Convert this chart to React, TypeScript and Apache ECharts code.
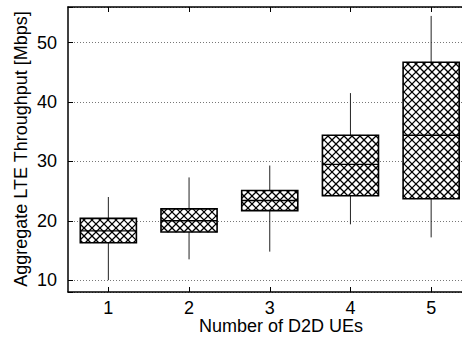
import React, { useEffect, useRef } from "react";
import * as echarts from "echarts";

const categories = ["1", "2", "3", "4", "5"];
const whiskerLow = [10.0, 13.5, 14.8, 19.4, 17.2];
const quartile1 = [16.3, 18.1, 21.7, 24.2, 23.7];
const medians = [18.3, 20.0, 23.4, 29.5, 34.4];
const quartile3 = [20.4, 22.0, 25.1, 34.4, 46.7];
const whiskerHigh = [24.0, 27.3, 29.3, 41.5, 54.5];

const yTitle = "Aggregate LTE Throughput [Mbps]";
const xTitle = "Number of D2D UEs";

const FONT = "'Liberation Sans', Arial, Helvetica, sans-serif";

export default function App() {
  const ref = useRef<HTMLDivElement>(null);

  useEffect(() => {
    if (!ref.current) return;
    const chart = echarts.init(ref.current, undefined, { renderer: "svg" });

    const boxData = categories.map((_, i) => [
      i,
      whiskerLow[i],
      quartile1[i],
      medians[i],
      quartile3[i],
      whiskerHigh[i],
    ]);

    const renderItem = (params: any, api: any) => {
      const idx = api.value(0);
      const pMin = api.coord([idx, api.value(1)]);
      const pQ1 = api.coord([idx, api.value(2)]);
      const pMed = api.coord([idx, api.value(3)]);
      const pQ3 = api.coord([idx, api.value(4)]);
      const pMax = api.coord([idx, api.value(5)]);
      const band = api.size([1, 0])[0];
      const w = band * 0.695;
      const cx = pMed[0];
      const x0 = cx - w / 2;
      const x1 = cx + w / 2;
      const y0 = pQ3[1];
      const y1 = pQ1[1];
      const children: any[] = [];
      children.push({
        type: "line",
        shape: { x1: cx, y1: pMax[1], x2: cx, y2: y0 },
        style: { stroke: "#222", lineWidth: 1 },
      });
      children.push({
        type: "line",
        shape: { x1: cx, y1: y1, x2: cx, y2: pMin[1] },
        style: { stroke: "#222", lineWidth: 1 },
      });
      children.push({
        type: "rect",
        shape: { x: x0, y: y0, width: x1 - x0, height: y1 - y0 },
        style: { fill: "#fff", stroke: null },
      });
      const sp = 8;
      const hatchStyle = { stroke: "#000", lineWidth: 1.3 };
      for (let c = Math.ceil((x0 - y1) / sp) * sp; c <= x1 - y0; c += sp) {
        const xs = Math.max(x0, y0 + c);
        const xe = Math.min(x1, y1 + c);
        if (xe > xs) {
          children.push({
            type: "line",
            shape: { x1: xs, y1: xs - c, x2: xe, y2: xe - c },
            style: hatchStyle,
          });
        }
      }
      for (let c = Math.ceil((x0 + y0) / sp) * sp; c <= x1 + y1; c += sp) {
        const xs = Math.max(x0, c - y1);
        const xe = Math.min(x1, c - y0);
        if (xe > xs) {
          children.push({
            type: "line",
            shape: { x1: xs, y1: c - xs, x2: xe, y2: c - xe },
            style: hatchStyle,
          });
        }
      }
      children.push({
        type: "rect",
        shape: { x: x0, y: y0, width: x1 - x0, height: y1 - y0 },
        style: { fill: "none", stroke: "#000", lineWidth: 1.6 },
      });
      children.push({
        type: "line",
        shape: { x1: x0, y1: pMed[1], x2: x1, y2: pMed[1] },
        style: { stroke: "#000", lineWidth: 1.4 },
      });
      return { type: "group", children };
    };

    chart.setOption({
      animation: false,
      backgroundColor: "#fff",
      textStyle: { fontFamily: FONT },
      grid: {
        left: 68,
        top: 7,
        width: 403.5,
        height: 285,
        outerBoundsMode: "none",
        containLabel: false,
      },
      xAxis: [
        {
          type: "category",
          data: categories,
          position: "bottom",
          axisLine: { show: true, lineStyle: { color: "#000", width: 1.5 } },
          axisTick: { show: true, inside: true, length: 5, alignWithLabel: true, lineStyle: { color: "#000" } },
          axisLabel: {
            color: "#000",
            fontSize: 18,
            lineHeight: 13,
            fontFamily: FONT,
            margin: 9,
          },
          splitLine: { show: false },
        },
        {
          type: "category",
          data: categories,
          position: "top",
          axisLine: { show: true, onZero: false, lineStyle: { color: "#000", width: 1.5 } },
          axisTick: { show: true, inside: true, length: 5, alignWithLabel: true, lineStyle: { color: "#000" } },
          axisLabel: { show: false },
          splitLine: { show: false },
        },
      ],
      yAxis: {
        type: "value",
        min: 8,
        max: 56,
        splitNumber: 5,
        axisLine: { show: true, lineStyle: { color: "#000", width: 1.5 } },
        axisTick: { show: true, inside: true, length: 5, lineStyle: { color: "#000" } },
        axisLabel: {
          color: "#000",
          fontSize: 18,
          fontFamily: FONT,
          margin: 11,
          formatter: (v: number) => (v % 10 === 0 ? String(v) : ""),
        },
        splitLine: {
          show: true,
          lineStyle: { color: "#777", width: 1, type: [1, 2] },
        },
      },
      series: [
        {
          type: "custom",
          renderItem,
          data: boxData,
          encode: { x: 0, y: [1, 2, 3, 4, 5] },
          clip: false,
        },
      ],
      graphic: [
        {
          type: "text",
          x: 281,
          y: 326,
          style: {
            text: xTitle,
            fontSize: 18,
            lineHeight: 14,
            fontFamily: FONT,
            fill: "#000",
            textAlign: "center",
            textVerticalAlign: "middle",
          },
        },
        {
          type: "text",
          x: 21,
          y: 149,
          rotation: Math.PI / 2,
          style: {
            text: yTitle,
            fontSize: 18,
            fontFamily: FONT,
            fill: "#000",
            textAlign: "center",
            textVerticalAlign: "middle",
          },
        },
      ],
    });

    return () => chart.dispose();
  }, []);

  return (
    <div
      style={{
        position: "fixed",
        left: 0,
        top: 0,
        width: 462,
        height: 338,
        overflow: "hidden",
        background: "#fff",
      }}
    >
      <div ref={ref} style={{ width: 480, height: 338 }} />
    </div>
  );
}
